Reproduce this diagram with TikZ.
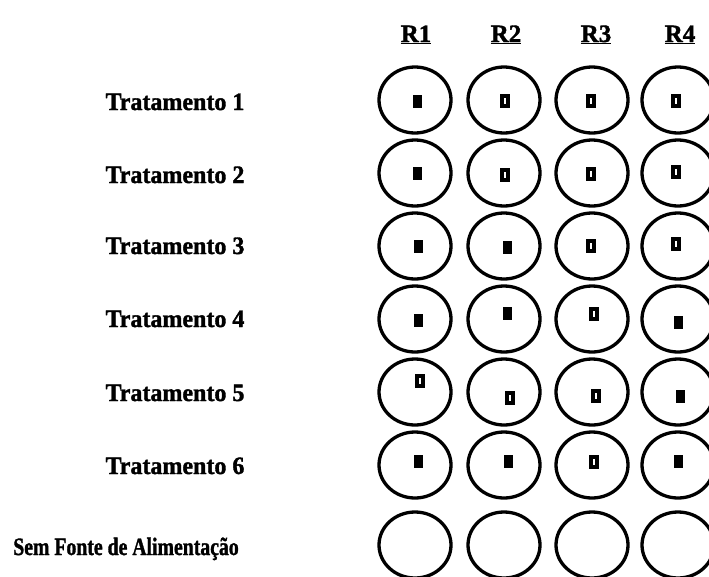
\documentclass[tikz,border=0pt]{standalone}
\usepackage{fontspec}
\setmainfont{Liberation Serif}[BoldFeatures={FakeBold=1.5}]
\usetikzlibrary{shapes.geometric}
\begin{document}
\begin{tikzpicture}[x=1pt,y=-1pt,
  well/.style={ellipse,draw=black,line width=3.3pt,minimum width=72pt,minimum height=66pt,inner sep=0pt},
  dotfull/.style={rectangle,fill=black,minimum width=9pt,minimum height=13pt,inner sep=0pt},
  dothollow/.style={rectangle,draw=black,fill=white,line width=3.4pt,minimum width=6pt,minimum height=10pt,inner sep=0pt},
  rowlab/.style={font=\fontsize{25}{30}\selectfont\bfseries,inner sep=0pt,anchor=base},
  collab/.style={font=\fontsize{25}{30}\selectfont\bfseries,inner sep=0pt,anchor=base}]
\useasboundingbox (0,0) rectangle (709,576);
\clip (0,0) rectangle (709,576);
% column headers
\node[collab] (h1) at (416,42) {\underline{R1}};
\node[collab] (h2) at (506,42) {\underline{R2}};
\node[collab] (h3) at (596,42) {\underline{R3}};
\node[collab] (h4) at (680,42) {\underline{R4}};
% row labels
\node[rowlab,xscale=0.96] (l1) at (175,110) {Tratamento 1};
\node[rowlab,xscale=0.96] (l2) at (175,183) {Tratamento 2};
\node[rowlab,xscale=0.96] (l3) at (175,254) {Tratamento 3};
\node[rowlab,xscale=0.96] (l4) at (175,327) {Tratamento 4};
\node[rowlab,xscale=0.96] (l5) at (175,401) {Tratamento 5};
\node[rowlab,xscale=0.96] (l6) at (175,474) {Tratamento 6};
\node[rowlab,xscale=0.79] (l7) at (126,555) {Sem Fonte de Alimentação};
% wells
\foreach \r/\y in {1/100,2/173,3/246,4/319,5/392,6/465,7/545}{
  \foreach \c/\x in {1/415,2/504,3/592,4/678}{
    \node[well] (w\r\c) at (\x,\y) {};
  }
}
% marks
\node[dotfull]   (m11) at (417,101) {};
\node[dothollow] (m12) at (505,101) {};
\node[dothollow] (m13) at (591,101) {};
\node[dothollow] (m14) at (676,101) {};
\node[dotfull]   (m21) at (417,173) {};
\node[dothollow] (m22) at (505,175) {};
\node[dothollow] (m23) at (591,174) {};
\node[dothollow] (m24) at (676,172) {};
\node[dotfull]   (m31) at (418,246) {};
\node[dotfull]   (m32) at (507,247) {};
\node[dothollow] (m33) at (591,246) {};
\node[dothollow] (m34) at (676,244) {};
\node[dotfull]   (m41) at (418,320) {};
\node[dotfull]   (m42) at (507,313) {};
\node[dothollow] (m43) at (594,314) {};
\node[dotfull]   (m44) at (678,322) {};
\node[dothollow] (m51) at (420,381) {};
\node[dothollow] (m52) at (510,398) {};
\node[dothollow] (m53) at (596,396) {};
\node[dotfull]   (m54) at (680,396) {};
\node[dotfull]   (m61) at (418,461) {};
\node[dotfull]   (m62) at (508,461) {};
\node[dothollow] (m63) at (594,462) {};
\node[dotfull]   (m64) at (678,461) {};
\end{tikzpicture}
\end{document}
